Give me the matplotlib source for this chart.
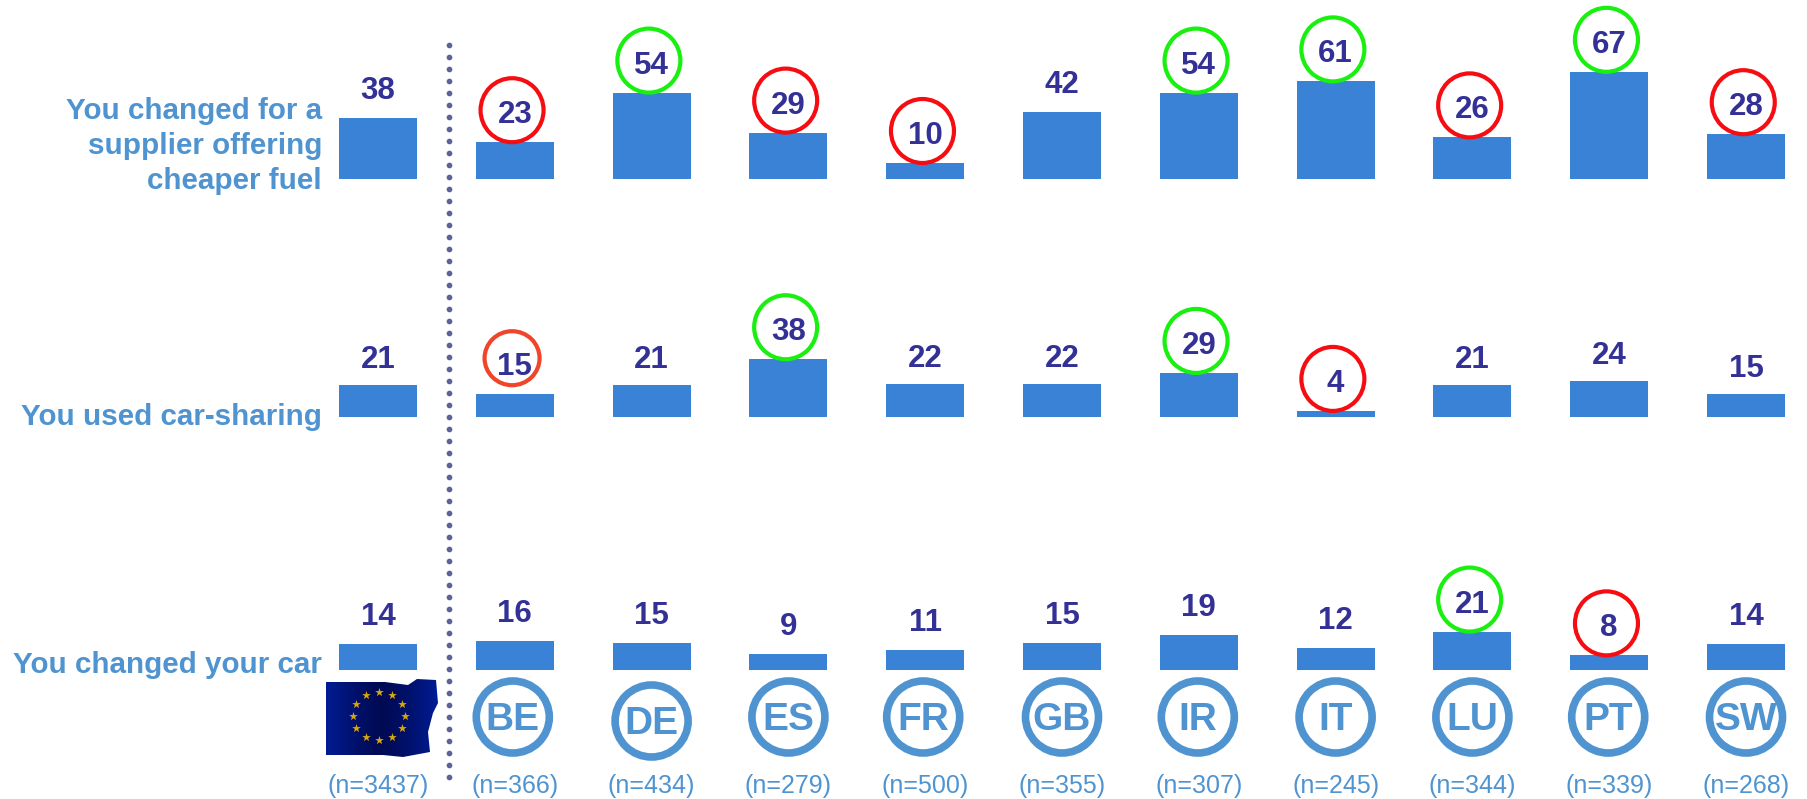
import matplotlib
matplotlib.use('Agg')
import matplotlib.pyplot as plt
from matplotlib.patches import Ellipse, Polygon
import numpy as np

W, H = 1807, 799

codes = ['BE', 'DE', 'ES', 'FR', 'GB', 'IR', 'IT', 'LU', 'PT', 'SW']
sizes = [3437, 366, 434, 279, 500, 355, 307, 245, 344, 339, 268]

row_labels = ['You changed for a\nsupplier offering\ncheaper fuel',
              'You used car-sharing',
              'You changed your car']

cheaper_fuel = [38, 23, 54, 29, 10, 42, 54, 61, 26, 67, 28]
car_sharing = [21, 15, 21, 38, 22, 22, 29, 4, 21, 24, 15]
changed_car = [14, 16, 15, 9, 11, 15, 19, 12, 21, 8, 14]

# g = above average, r = below average, o = the one orange ring, '' = none
cheaper_marks = ['', 'r', 'g', 'r', 'r', '', 'g', 'g', 'r', 'g', 'r']
sharing_marks = ['', 'o', '', 'g', '', '', 'g', 'r', '', '', '']
car_marks = ['', '', '', '', '', '', '', '', 'g', 'r', '']

BAR = '#3a82d6'
NAVY = '#343196'
LABEL = '#4f94d0'
ring_colors = {'g': '#19f00f', 'r': '#f50d12', 'o': '#f0452a'}

plt.rcParams['font.family'] = ['Liberation Sans', 'DejaVu Sans']

fig = plt.figure(figsize=(W / 100, H / 100), dpi=100)

# overlay in pixels, only for layout things
bg = fig.add_axes([0, 0, 1, 1])
bg.set_xlim(0, W)
bg.set_ylim(H, 0)
bg.axis('off')

# x scale: index 0 = EU at 378px, one step = 136.8px
x0 = 378
step = 136.8


def row_axes(base_px, px_per_unit):
    # axes spans 0-100 units above the baseline
    height = px_per_unit * 100
    ax = fig.add_axes([0, (H - base_px) / H, 1, height / H])
    ax.set_xlim(-x0 / step, (W - x0) / step)
    ax.set_ylim(0, 100)
    ax.axis('off')
    ax.patch.set_alpha(0)
    return ax


def draw_row(base_px, px_per_unit, values, marks, label, label_y, plain_gap):
    ax = row_axes(base_px, px_per_unit)
    xs = np.arange(len(values))
    ax.bar(xs, values, width=0.57, color=BAR, linewidth=0)
    for x, v, m in zip(xs, values, marks):
        text_gap = 27 if m else plain_gap
        ax.text(x, v + text_gap / px_per_unit, str(v), ha='center', va='center',
                fontsize=22.5, fontweight='bold', color=NAVY)
        if m == 'o':
            # this ring is smaller and floats above the bar
            ring_gap, ring_w, ring_h = 36, 55, 54
        elif m:
            ring_gap, ring_w, ring_h = 32, 63, 64
        if m:
            ax.add_patch(Ellipse((x - 0.02, v + ring_gap / px_per_unit),
                                 width=ring_w / step, height=ring_h / px_per_unit,
                                 fill=False, edgecolor=ring_colors[m],
                                 linewidth=3, clip_on=False))
    bg.text(322, label_y, label, ha='right', va='center', fontsize=21.3,
            fontweight='bold', color=LABEL, linespacing=1.3)


draw_row(179, 1.6, cheaper_fuel, cheaper_marks, row_labels[0], 146, 27)
draw_row(417, 1.52, car_sharing, sharing_marks, row_labels[1], 417, 25)
draw_row(670, 1.83, changed_car, car_marks, row_labels[2], 665, 27)

# dotted separator
dots = np.arange(45, 780, 12.0)
bg.scatter(np.full(len(dots), 449), dots, s=17, color='#5b6499', linewidth=0)

# EU flag, gradient clipped to a wavy outline
outline = [(326, 682), (385, 682), (408, 685), (417, 679), (436, 680), (438, 703),
           (433, 713), (428, 732), (430, 752), (403, 757), (383, 755), (326, 755)]
shade = np.abs(np.linspace(-1, 1, 120)) ** 1.3
flag = np.zeros((10, 120, 3))
flag[:, :, 2] = 0.33 + 0.25 * shade
flag[:, :, 1] = 0.04 + 0.07 * shade
im = bg.imshow(flag, extent=(326, 438, 758, 679), aspect='auto', zorder=2)
poly = Polygon(outline, transform=bg.transData, facecolor='none', edgecolor='none')
bg.add_patch(poly)
im.set_clip_path(poly)
bg.set_xlim(0, W)
bg.set_ylim(H, 0)
angles = np.deg2rad(np.arange(0, 360, 30))
bg.scatter(379 + 26 * np.cos(angles), 716 + 24 * np.sin(angles), marker='*', s=42,
           color='#d8a80c', linewidth=0, zorder=3)

# country rings and sample sizes
ring_y = [0, 717, 721, 717, 717, 717, 717, 717, 717, 717, 717]
ring_dx = [0, -2, 0, 0, -2, 0, -1, 0, 0, -1, 0]
for i, code in enumerate(codes, start=1):
    x = x0 + i * step + ring_dx[i]
    y = ring_y[i]
    bg.add_patch(Ellipse((x, y), 73, 72, fill=False, edgecolor=LABEL, linewidth=5.5))
    bg.text(x, y + 3, code, ha='center', va='center', fontsize=28,
            fontweight='bold', color=LABEL)
for i, n in enumerate(sizes):
    bg.text(x0 + i * step, 786, '(n=%d)' % n, ha='center', va='center',
            fontsize=18, color=LABEL)

fig.savefig('out.png', dpi=100)
